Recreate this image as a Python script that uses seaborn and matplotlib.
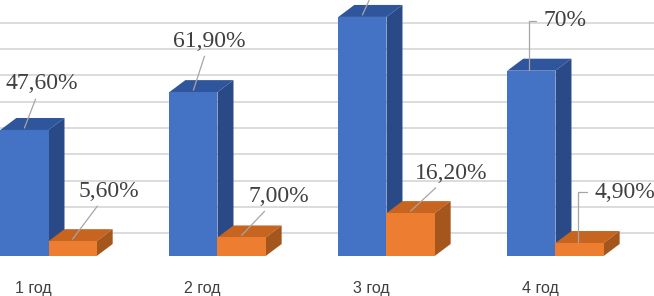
import matplotlib
matplotlib.use("Agg")
import matplotlib.pyplot as plt
from matplotlib.patches import Polygon
from matplotlib.transforms import ScaledTranslation
import seaborn as sns
import pandas as pd

# ---- data ----
categories = ["1 год", "2 год", "3 год", "4 год"]
series_names = ["Ряд 1", "Ряд 2"]
series1 = [47.6, 61.9, 90.3, 70.0]
series2 = [5.6, 7.0, 16.2, 4.9]
labels1 = ["47,60%", "61,90%", "90,30%", "70%"]
labels2 = ["5,60%", "7,00%", "16,20%", "4,90%"]

df = pd.DataFrame({
    "cat": categories * 2,
    "series": [series_names[0]] * 4 + [series_names[1]] * 4,
    "value": series1 + series2,
})

sns.set_theme(style="white")
W, H = 654, 296
fig = plt.figure(figsize=(W / 100, H / 100), dpi=100)
ax = fig.add_axes([0, 17 / H, 1, 279 / H])

front = {"Ряд 1": "#4472C4", "Ряд 2": "#ED7D31"}
top_c = ["#2F569C", "#C7641F"]
side_c = ["#2A4A87", "#A5561C"]

sns.barplot(data=df, x="cat", y="value", hue="series", palette=front,
            width=0.57, gap=0, legend=False, ax=ax, saturation=1,
            linewidth=0, zorder=2)

xmin, xmax = -0.287, 3.583
ymin, ymax = -8.69, 96.7
ax.set_xlim(xmin, xmax)
ax.set_ylim(ymin, ymax)
xpx = W / (xmax - xmin)
ypx = 279 / (ymax - ymin)
ddx, ddy = 16 / xpx, 12 / ypx

# back-wall gridlines (perspective)
for k in range(1, 10):
    ax.axhline((-3.5 + 26.3 * k) / 2.647, color="#d9d9d9", lw=1.3, zorder=0)

label_sets = [labels1, labels2]
offsets = [
    [(17, 44), (16, 49), (22, 48), (36, 49)],
    [(36, 48), (37, 39), (41, 38), (47, 50)],
]
elbow = [[False, False, False, True], [False, False, False, True]]

for si, cont in enumerate(ax.containers):
    for ci, bar in enumerate(cont):
        z = 2 + si
        bar.set_zorder(z + 0.5)
        x, w, h = bar.get_x(), bar.get_width(), bar.get_height()
        top = Polygon([(x, h), (x + w, h), (x + w + ddx, h + ddy), (x + ddx, h + ddy)],
                      closed=True, facecolor=top_c[si], edgecolor="none", zorder=z)
        side = Polygon([(x + w, 0), (x + w, h), (x + w + ddx, h + ddy), (x + w + ddx, ddy)],
                       closed=True, facecolor=side_c[si], edgecolor="none", zorder=z)
        ax.add_patch(top)
        ax.add_patch(side)
        cx = x + w / 2
        ox, oy = offsets[si][ci]
        if elbow[si][ci]:
            ap = dict(arrowstyle="-", color="#a6a6a6", lw=0.9, shrinkA=3, shrinkB=0,
                      relpos=(0, 0.5), connectionstyle="angle,angleA=0,angleB=90,rad=0")
            xy = (cx - 2 / xpx, h + 1 / ypx)
        else:
            ap = dict(arrowstyle="-", color="#a6a6a6", lw=0.9, shrinkA=1, shrinkB=0)
            xy = (cx, h + 2 / ypx)
        ax.annotate(label_sets[si][ci], xy=xy, xytext=(ox, oy),
                    textcoords="offset pixels", ha="center", va="center",
                    fontsize=17, family="Liberation Serif", color="#404040",
                    arrowprops=ap, zorder=10)

sns.despine(ax=ax, left=True, bottom=True)
ax.set_xlabel("")
ax.set_ylabel("")
ax.set_yticks([])
ax.tick_params(axis="x", length=0, pad=1.5, labelsize=11.5, labelcolor="#404040")
for lab in ax.get_xticklabels():
    lab.set_family("Liberation Sans")
    lab.set_transform(lab.get_transform() + ScaledTranslation(-15 / 100, 0, fig.dpi_scale_trans))
ax.grid(False)

fig.savefig("out.png", dpi=100)
